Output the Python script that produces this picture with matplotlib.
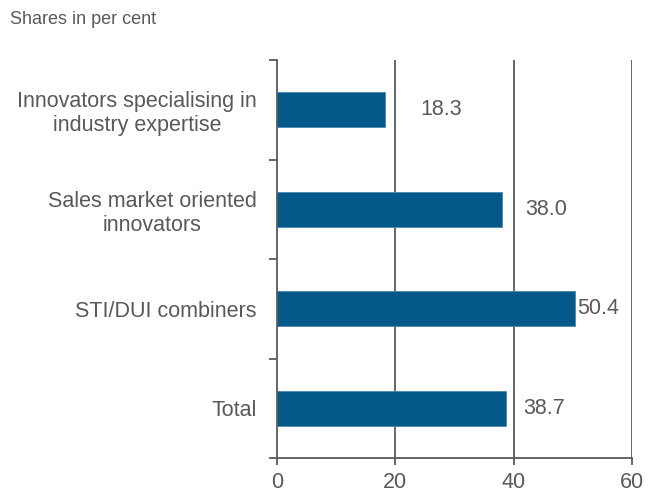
import matplotlib
matplotlib.use("Agg")
import matplotlib.pyplot as plt
from matplotlib.ticker import FixedLocator

plt.rcParams['font.family'] = ['Liberation Sans', 'DejaVu Sans']

categories = ["Innovators specialising in\nindustry expertise",
              "Sales market oriented\ninnovators",
              "STI/DUI combiners",
              "Total"]
values = [18.3, 38.0, 50.4, 38.7]
value_labels = ["18.3", "38.0", "50.4", "38.7"]
x_ticks = [0, 20, 40, 60]
label_x = [24.3, 41.9, 50.7, 41.7]

bar_color = "#03598a"
grey = "#5a5a5a"
text_col = "#595959"

fig = plt.figure(figsize=(6.56, 4.93), dpi=100)
ax = fig.add_axes([277/656, 35/493, 355/656, 398/493])

n = len(categories)
ypos = [n - 1 - i for i in range(n)]

for x in x_ticks[1:]:
    ax.axvline(x, color=grey, lw=1.3, zorder=1)

ax.barh(ypos, values, height=0.35, color=bar_color, edgecolor="#4d86ad",
        linewidth=0.6, zorder=2)

for y, lx, lab in zip(ypos, label_x, value_labels):
    ax.text(lx, y, lab, va="center", ha="left", fontsize=15.5, color=text_col, zorder=3)

ax.set_xlim(0, 60)
ax.set_ylim(-0.5, n - 0.5)
ax.set_xticks(x_ticks)
ax.set_xticklabels([str(t) for t in x_ticks], fontsize=15.5, color=text_col)
ax.tick_params(axis='x', direction='out', length=5, width=1.3, color=grey, pad=5)

ax.set_yticks(ypos)
ax.set_yticklabels(categories, fontsize=15.5, color=text_col)
for lbl in ax.get_yticklabels():
    lbl.set_multialignment('center')
ax.tick_params(axis='y', which='major', length=0, pad=14.5)
ax.yaxis.set_minor_locator(FixedLocator([i - 0.5 for i in range(n + 1)]))
ax.tick_params(axis='y', which='minor', direction='out', length=6, width=1.3, color=grey)

for s in ['top', 'right']:
    ax.spines[s].set_visible(False)
for s in ['left', 'bottom']:
    ax.spines[s].set_color(grey)
    ax.spines[s].set_linewidth(1.3)

fig.text(10/656, 1 - 19/493, "Shares in per cent", fontsize=13, color=text_col,
         ha="left", va="center")

fig.savefig("out.png", dpi=100)
